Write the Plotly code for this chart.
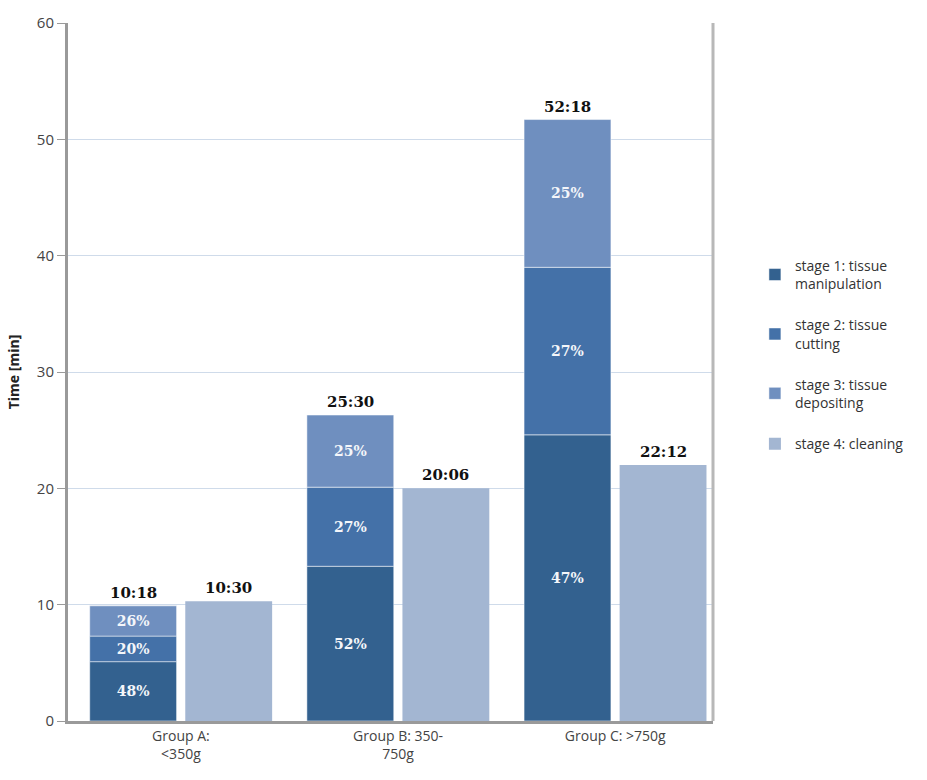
import plotly.graph_objects as go

groups = ["Group A:<br><350g", "Group B: 350-<br>750g", "Group C: >750g"]
stage1 = [5.1, 13.3, 24.6]
stage2 = [2.2, 6.8, 14.4]
stage3 = [2.6, 6.2, 12.7]
stage4 = [10.3, 20.0, 22.0]
pct1 = ["48%", "52%", "47%"]
pct2 = ["20%", "27%", "27%"]
pct3 = ["26%", "25%", "25%"]
total_labels = ["10:18", "25:30", "52:18"]
stage4_labels = ["10:30", "20:06", "22:12"]
names = ["stage 1: tissue<br>manipulation", "stage 2: tissue<br>cutting",
         "stage 3: tissue<br>depositing", "stage 4: cleaning"]
colors = ["#33618f", "#4471a8", "#6f8fbf", "#a3b6d2"]

xi = list(range(len(groups)))
base2 = stage1
base3 = [a + b for a, b in zip(stage1, stage2)]
totals = [a + b + c for a, b, c in zip(stage1, stage2, stage3)]

serif = "DejaVu Serif"
fig = go.Figure()
for vals, base, pct, nm, col, lg in [
    (stage1, None, pct1, names[0], colors[0], "g1"),
    (stage2, base2, pct2, names[1], colors[1], "g2"),
    (stage3, base3, pct3, names[2], colors[2], "g3"),
]:
    fig.add_bar(x=xi, y=vals, base=base, name=nm, legendgroup=lg,
                marker=dict(color=col, line=dict(color="rgba(255,255,255,0.5)", width=1)),
                width=0.4, offset=-0.42,
                text=["<b>%s</b>" % p for p in pct], textposition="inside",
                insidetextanchor="middle", constraintext="none",
                textfont=dict(family=serif, size=14, color="#f4f6fa"))
fig.add_bar(x=xi, y=stage4, name=names[3], legendgroup="g4",
            marker=dict(color=colors[3], line=dict(width=0)),
            width=0.4, offset=0.02)

for i in xi:
    fig.add_annotation(x=i - 0.22, y=totals[i], text="<b>%s</b>" % total_labels[i],
                       showarrow=False, yanchor="bottom", yshift=2,
                       font=dict(family=serif, size=15, color="#111"))
    fig.add_annotation(x=i + 0.22, y=stage4[i], text="<b>%s</b>" % stage4_labels[i],
                       showarrow=False, yanchor="bottom", yshift=2,
                       font=dict(family=serif, size=15, color="#111"))

fig.add_shape(type="line", xref="paper", yref="paper", x0=1, x1=1, y0=0, y1=1,
              line=dict(color="#b8b8b8", width=3))

fig.update_layout(
    width=927, height=780, barmode="overlay",
    margin=dict(l=68, r=214, t=17, b=59),
    paper_bgcolor="white", plot_bgcolor="white",
    font=dict(family="Open Sans", color="#444"),
    legend=dict(x=1.065, y=0.675, xanchor="left", yanchor="top",
                font=dict(family="Open Sans", size=14, color="#333"),
                tracegroupgap=20, traceorder="grouped"),
    xaxis=dict(type="linear", range=[-0.52, 2.45], tickmode="array", tickvals=xi,
               ticktext=groups, showgrid=False, showline=True, linecolor="#9a9a9a",
               linewidth=3, ticks="", tickfont=dict(size=14, color="#444"), zeroline=False),
    yaxis=dict(range=[0, 60], dtick=10, showgrid=True, gridcolor="#cfdbea", gridwidth=1,
               showline=True, linecolor="#9a9a9a", linewidth=3, ticks="outside",
               ticklen=8, tickcolor="#9a9a9a", zeroline=False,
               tickfont=dict(size=15, color="#444"),
               title=dict(text="<b>Time [min]</b>", font=dict(size=14, color="#222"), standoff=14)),
)
fig.write_html("out.html")
